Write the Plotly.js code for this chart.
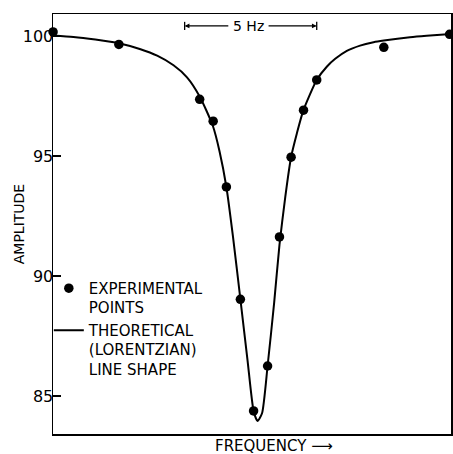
<!DOCTYPE html>
<html>
<head>
<meta charset="utf-8">
<script src="https://cdn.plot.ly/plotly-3.0.1.min.js"></script>
<style>
  html, body { margin: 0; padding: 0; background: #fff; }
  #chart { width: 453px; height: 454px; }
</style>
</head>
<body>
<div id="chart"></div>
<script>
// Experimental points (frequency offset in Hz from line centre, amplitude)
var expFreq = [-7.74, -5.25, -2.19, -1.68, -1.18, -0.65, -0.15, 0.38, 0.83, 1.27, 1.74, 2.24, 4.78, 7.27];
var expAmp  = [100.17, 99.65, 97.36, 96.45, 93.71, 89.03, 84.38, 86.25, 91.63, 94.95, 96.91, 98.17, 99.53, 100.07];

// Theoretical (Lorentzian) line shape
var curveFreq = [-7.74, -6.97, -6.14, -5.25, -4.43, -3.80, -3.18, -2.67, -2.19, -1.69, -1.44, -1.18, -0.93, -0.65, -0.38, -0.15, 0.00,
                 0.17, 0.38, 0.63, 0.83, 1.05, 1.27, 1.49, 1.74, 2.24, 2.62, 2.94, 3.38, 3.88, 4.39, 4.78, 5.77, 6.40, 7.32];
var curveAmp  = [100.02, 99.96, 99.85, 99.70, 99.45, 99.18, 98.78, 98.28, 97.48, 96.25, 95.20, 93.71, 91.64, 89.04, 86.50, 84.38, 83.96,
                 84.28, 86.25, 88.90, 91.30, 93.30, 94.96, 95.95, 96.92, 98.17, 98.72, 99.05, 99.38, 99.60, 99.74, 99.81, 99.95, 100.01, 100.08];

// Amplitude tick labels
var ampTicks = [85, 90, 95, 100];
var ampTickText = ['85', '90', '95', '100'];

// Frequency scale bar
var scaleStartHz = -2.76;
var scaleWidthHz = 5;
var scaleLabel = '5 Hz';
var scaleLevel = 100.42;

var FONT = 'DejaVu Sans, Liberation Sans, sans-serif';
var scaleEnd = scaleStartHz + scaleWidthHz;
var scaleMid = -0.35;

var traces = [
  {
    x: expFreq, y: expAmp, mode: 'markers', type: 'scatter',
    name: 'EXPERIMENTAL<br>POINTS',
    marker: { size: 9.5, color: '#000' },
    cliponaxis: false
  },
  {
    x: curveFreq, y: curveAmp, mode: 'lines', type: 'scatter',
    name: 'THEORETICAL<br>(LORENTZIAN)<br>LINE SHAPE',
    line: { color: '#000', width: 2, shape: 'spline', smoothing: 0.6 }
  }
];

var capH = 0.17;
var layout = {
  width: 453, height: 454,
  margin: { l: 52.5, r: 2, t: 14, b: 20, pad: 0 },
  paper_bgcolor: '#fff', plot_bgcolor: '#fff',
  font: { family: FONT, color: '#000', size: 15 },
  xaxis: {
    range: [-7.743, 7.323],
    showline: true, mirror: true, linecolor: '#000', linewidth: 1.5,
    showgrid: false, zeroline: false, showticklabels: false, ticks: ''
  },
  yaxis: {
    range: [83.417, 100.917],
    tickvals: ampTicks, ticktext: ampTickText,
    ticks: 'inside', ticklen: 8, tickwidth: 1.2, tickcolor: '#000',
    ticklabelstandoff: -5,
    tickfont: { family: FONT, size: 16, color: '#000' },
    showline: true, mirror: true, linecolor: '#000', linewidth: 1.5,
    showgrid: false, zeroline: false
  },
  showlegend: true,
  legend: {
    x: -0.0105, y: 0.386, xanchor: 'left', yanchor: 'top',
    valign: 'top', bgcolor: 'rgba(0,0,0,0)', borderwidth: 0,
    font: { family: FONT, size: 15, color: '#000' },
    itemwidth: 30, tracegroupgap: 0
  },
  shapes: [
    { type: 'line', xref: 'x', yref: 'y', x0: scaleStartHz, x1: scaleStartHz, y0: scaleLevel - capH, y1: scaleLevel + capH, line: { color: '#000', width: 1.3 } },
    { type: 'line', xref: 'x', yref: 'y', x0: scaleEnd, x1: scaleEnd, y0: scaleLevel - capH, y1: scaleLevel + capH, line: { color: '#000', width: 1.3 } }
  ],
  annotations: [
    { x: scaleMid, y: scaleLevel, xref: 'x', yref: 'y', text: scaleLabel, showarrow: false,
      font: { family: FONT, size: 14, color: '#000' }, xanchor: 'center', yanchor: 'middle' },
    { x: scaleStartHz, y: scaleLevel, xref: 'x', yref: 'y', ax: -1.05, ay: scaleLevel, axref: 'x', ayref: 'y',
      text: '', showarrow: true, arrowhead: 2, arrowsize: 0.8, arrowwidth: 1.2, arrowcolor: '#000' },
    { x: scaleEnd, y: scaleLevel, xref: 'x', yref: 'y', ax: 0.36, ay: scaleLevel, axref: 'x', ayref: 'y',
      text: '', showarrow: true, arrowhead: 2, arrowsize: 0.8, arrowwidth: 1.2, arrowcolor: '#000' },
    { x: -0.0848, y: 0.5, xref: 'paper', yref: 'paper', text: 'AMPLITUDE', textangle: -90, showarrow: false,
      font: { family: FONT, size: 14, color: '#000' }, xanchor: 'center', yanchor: 'middle' },
    { x: 0.5563, y: -0.0279, xref: 'paper', yref: 'paper', text: 'FREQUENCY \u27F6', showarrow: false,
      font: { family: FONT, size: 15, color: '#000' }, xanchor: 'center', yanchor: 'middle' }
  ]
};

Plotly.newPlot('chart', traces, layout, { staticPlot: true, displayModeBar: false });
</script>
</body>
</html>
